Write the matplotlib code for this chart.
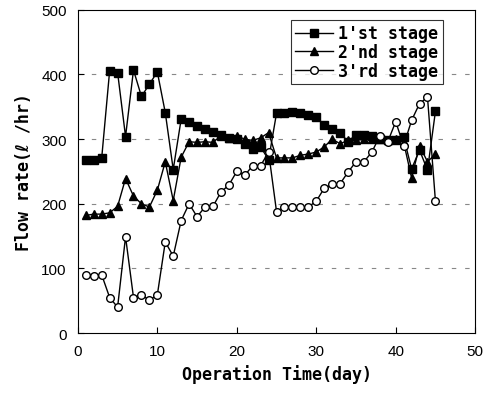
import matplotlib
matplotlib.use("Agg")
import matplotlib.pyplot as plt
import numpy as np

# --- data ---
days = np.arange(1, 46)

stage1 = [268, 268, 271, 406, 403, 304, 407, 366, 385, 404,
          341, 253, 331, 327, 321, 316, 311, 306, 302, 300,
          292, 285, 288, 268, 340, 341, 342, 340, 338, 334,
          322, 316, 310, 296, 307, 307, 305, 300, 298, 298,
          303, 254, 283, 252, 343]

stage2 = [182, 184, 184, 186, 196, 239, 212, 200, 195, 221,
          265, 205, 272, 296, 295, 296, 295, 305, 302, 305,
          300, 298, 302, 310, 271, 271, 271, 275, 277, 280,
          288, 300, 293, 298, 298, 300, 300, 300, 298, 300,
          295, 240, 290, 265, 277]

stage3 = [90, 89, 90, 55, 40, 149, 55, 59, 51, 59,
          141, 119, 174, 200, 180, 195, 196, 218, 229, 250,
          244, 259, 259, 280, 188, 195, 195, 195, 195, 204,
          224, 230, 231, 249, 265, 265, 280, 305, 296, 327,
          290, 329, 355, 365, 204]

labels = ["1'st stage", "2'nd stage", "3'rd stage"]
x_ticks = [0, 10, 20, 30, 40, 50]
y_ticks = [0, 100, 200, 300, 400, 500]

plt.rcParams["font.family"] = ["Liberation Sans", "DejaVu Sans"]
mono = ["DejaVu Sans Mono", "DejaVu Sans"]

fig = plt.figure(figsize=(4.96, 4.02), dpi=100)
ax = fig.add_axes([0.157, 0.169, 0.801, 0.804])

ax.plot(days, stage1, "-", color="black", lw=1.0, marker="s", ms=5.5,
        mfc="black", mec="black", label=labels[0])
ax.plot(days, stage2, "-", color="black", lw=1.0, marker="^", ms=5.5,
        mfc="black", mec="black", label=labels[1])
ax.plot(days, stage3, "-", color="black", lw=1.0, marker="o", ms=5.5,
        mfc="white", mec="black", mew=1.0, label=labels[2])

ax.set_xlim(0, 50)
ax.set_ylim(0, 500)
ax.set_xticks(x_ticks)
ax.set_yticks(y_ticks)
ax.tick_params(direction="in", length=4, labelsize=11, pad=8)
for y in y_ticks[1:-1]:
    ax.axhline(y, color="#888888", ls=(0, (4, 8)), lw=0.8, zorder=0)

ax.set_xlabel("Operation Time(day)", fontsize=12, fontweight="bold",
              family=mono, labelpad=4)
ax.set_ylabel("Flow rate(\u2113 /hr)", fontsize=12, fontweight="bold",
              family=mono, labelpad=6)

leg = ax.legend(loc="upper right", bbox_to_anchor=(0.918, 0.968),
                prop={"family": mono, "weight": "bold", "size": 12},
                frameon=True, fancybox=False, edgecolor="black",
                handlelength=2.3, handletextpad=0.3, borderpad=0.25,
                labelspacing=0.05, borderaxespad=0.0)
leg.get_frame().set_linewidth(0.8)

fig.savefig("out.png", dpi=100)
